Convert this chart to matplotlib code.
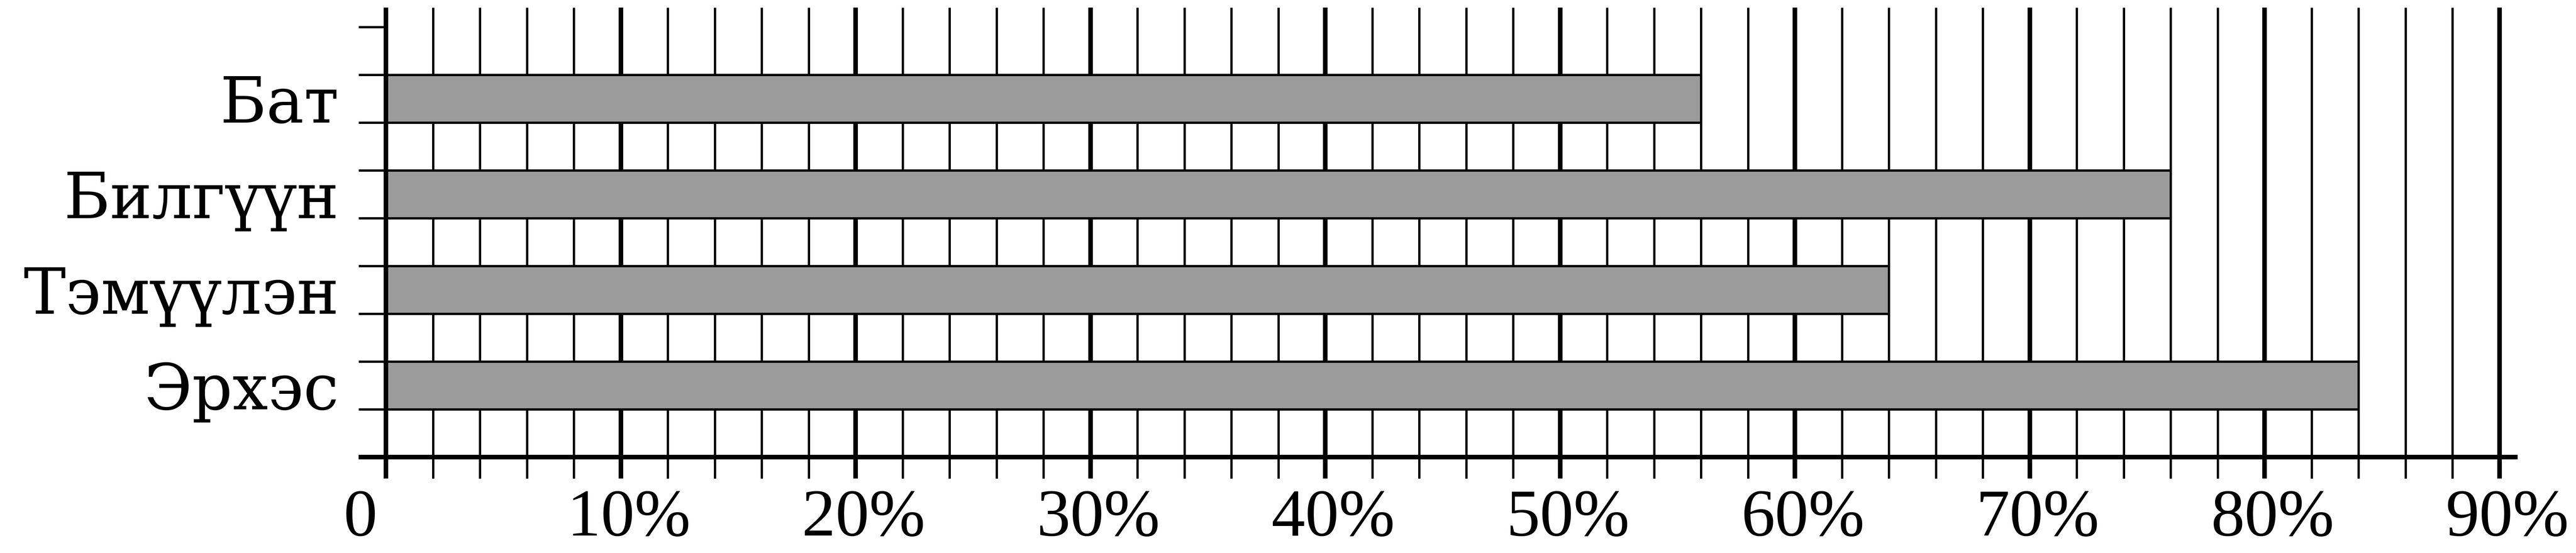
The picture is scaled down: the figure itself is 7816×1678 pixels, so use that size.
import numpy as np
import matplotlib
matplotlib.use("Agg")
import matplotlib.pyplot as plt

# Данные
names = ["Бат", "Билгүүн", "Тэмүүлэн", "Эрхэс"]
values = [56, 76, 64, 84]
x_ticks = [0, 10, 20, 30, 40, 50, 60, 70, 80, 90]
x_labels = ["0", "10%", "20%", "30%", "40%", "50%", "60%", "70%", "80%", "90%"]

plt.rcParams['font.family'] = ['Liberation Serif', 'DejaVu Serif']

fig = plt.figure(figsize=(78.16, 16.78), dpi=100)
ax = fig.add_axes([0, 0, 1, 1])
ax.set_xlim(-16.435, 93.26)
ax.set_ylim(-2.007, 9.566)
ax.axis('off')

n_slots = 2 * len(names) + 1
fs = 147

# vertical grid lines every 2%, thicker every 10%
minor = np.arange(2, 91, 2)
minor = minor[minor % 10 != 0]
major = np.array(x_ticks[1:])
ax.vlines(minor, -0.45, 9.41, color='black', lw=5.0, zorder=1)
ax.vlines(major, -0.45, 9.41, color='black', lw=10.0, zorder=1)

# bars
y_pos = [2 * (len(names) - i) - 0.5 for i in range(len(names))]
ax.barh(y_pos, values, height=1.0, left=0, color='#9b9b9b',
        edgecolor='black', linewidth=5.0, zorder=3)

# left ticks, y axis and bottom axis
ax.hlines(np.arange(1, n_slots + 1), -1.165, 0, color='black', lw=5.0, zorder=2)
ax.vlines(0, -0.45, 9.41, color='black', lw=10.0, zorder=4)
ax.hlines(0, -1.165, 90.77, color='black', lw=10.0, zorder=4)

# category labels
for y, name in zip(y_pos, names):
    ax.text(-2.0, y - 0.5, name, ha='right', va='baseline', fontsize=138,
            family='DejaVu Serif')

# percent labels
for x, lab in zip(x_ticks, x_labels):
    if x == 0:
        ax.text(x - 1.09, -1.64, lab, ha='center', va='baseline', fontsize=fs)
    else:
        ax.text(x + 0.34, -1.64, lab, ha='center', va='baseline', fontsize=fs)

fig.savefig("out.png", dpi=100, facecolor='white')
